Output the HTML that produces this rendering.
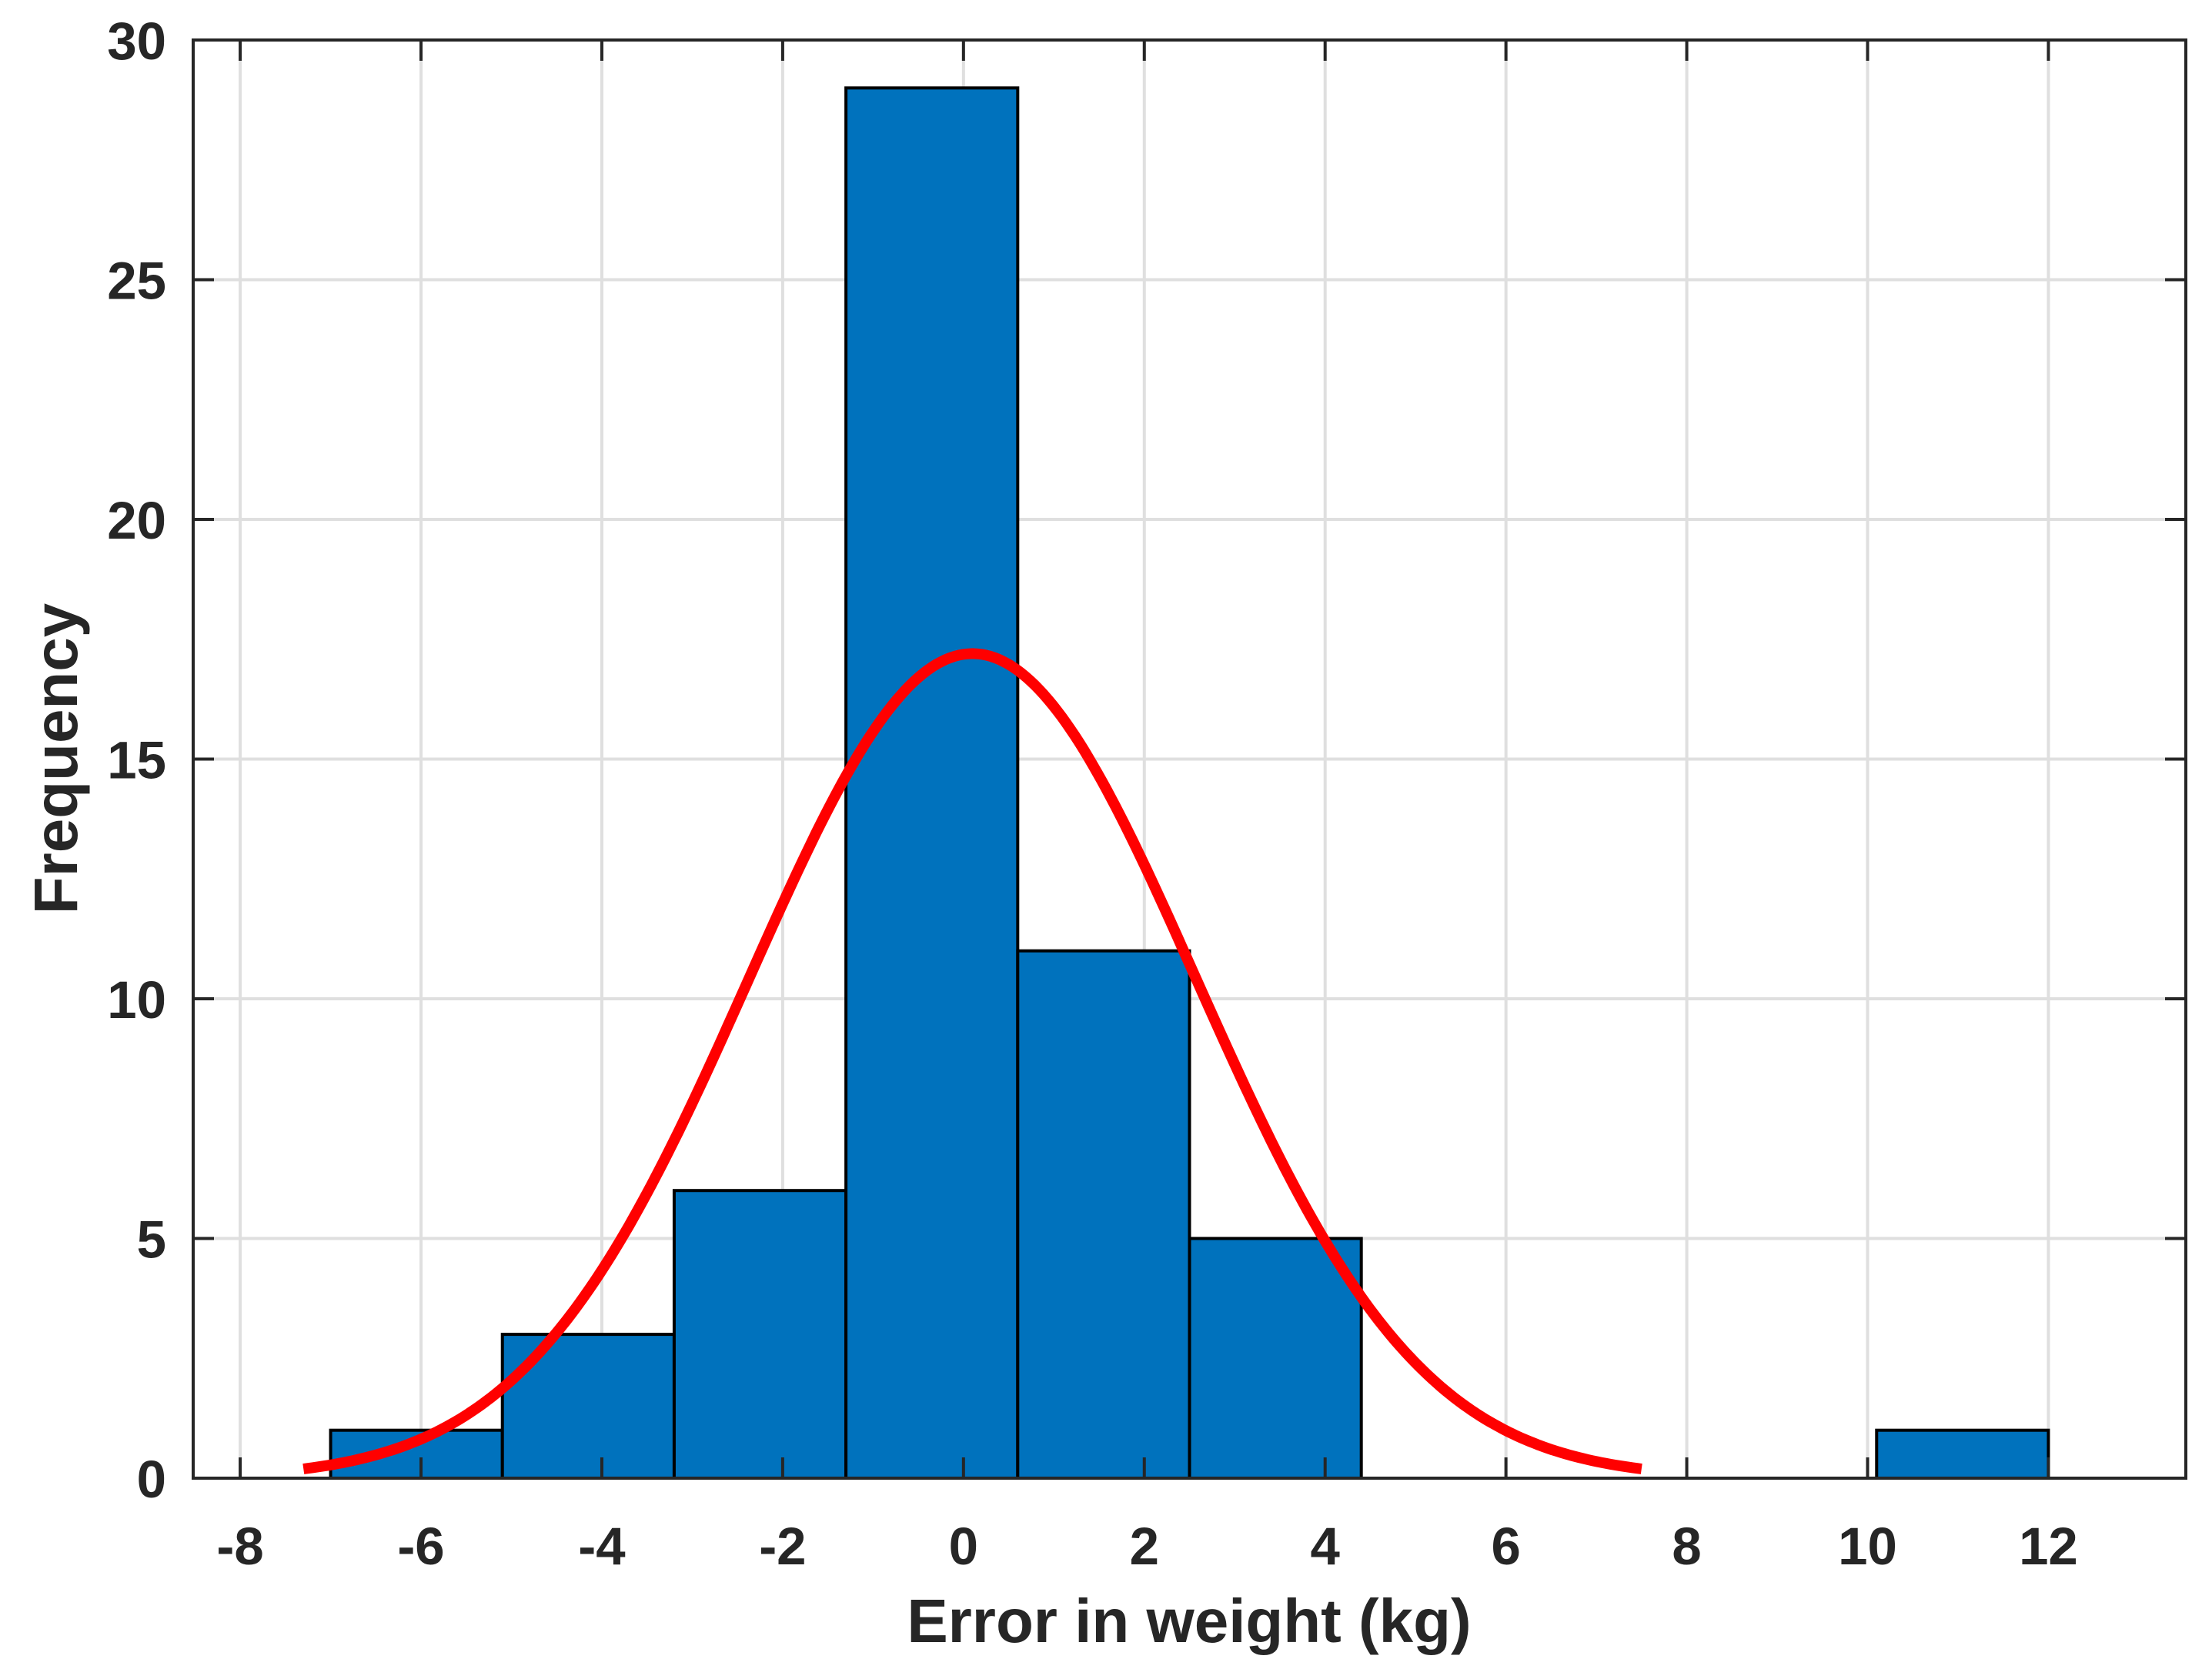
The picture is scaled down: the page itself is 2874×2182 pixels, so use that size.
<!DOCTYPE html>
<html><head><meta charset="utf-8"><style>
html,body{margin:0;padding:0;background:#fff;}
svg text{font-family:"Liberation Sans",Arial,sans-serif;font-weight:bold;fill:#262626;}
</style></head><body>
<svg id="chart" width="2874" height="2177" viewBox="0 0 2874 2177" xmlns="http://www.w3.org/2000/svg">
<rect width="2874" height="2177" fill="#fff"/>
<g id="grid"></g><g id="bars"></g><g id="curve"></g><g id="axes"></g>
</svg>
<script>
const binEdges = [-7.0, -5.1, -3.2, -1.3, 0.6, 2.5, 4.4, 6.3, 8.2, 10.1, 12.0];
const binCounts = [1, 3, 6, 29, 11, 5, 0, 0, 0, 1];
const xTicks = [-8, -6, -4, -2, 0, 2, 4, 6, 8, 10, 12];
const yTicks = [0, 5, 10, 15, 20, 25, 30];
const fitParams = [0.1, 2.47, 17.2]; // mean, sigma, peak height
const fitRange = [-7.3, 7.5];

const L=251,R=2840,T=52,B=1921, xmin=-8.52, xmax=13.52, ymin=0, ymax=30;
const sx=v=>L+(v-xmin)/(xmax-xmin)*(R-L);
const sy=v=>B-(v-ymin)/(ymax-ymin)*(B-T);
const NS="http://www.w3.org/2000/svg";
function mk(tag,attrs,parent){const e=document.createElementNS(NS,tag);for(const k in attrs)e.setAttribute(k,attrs[k]);document.getElementById(parent).appendChild(e);return e;}

xTicks.forEach(t=>{
  const g=mk('line',{x1:sx(t),x2:sx(t),y1:T,y2:B,stroke:'#dfdfdf','stroke-width':4},'grid');
  
  
});
yTicks.forEach(t=>{
  const g=mk('line',{x1:L,x2:R,y1:sy(t),y2:sy(t),stroke:'#dfdfdf','stroke-width':4},'grid');
  
  
});

binCounts.forEach((c,i)=>{
  if(c<=0) return;
  const x0=sx(binEdges[i]),x1=sx(binEdges[i+1]);
  const r=mk('rect',{x:x0,y:sy(c),width:x1-x0,height:sy(0)-sy(c),fill:'#0072bd',stroke:'#000','stroke-width':4},'bars');
  
  
});

let pts=[];
for(let k=0;k<=300;k++){
  const x=fitRange[0]+(fitRange[1]-fitRange[0])*k/300;
  const y=fitParams[2]*Math.exp(-Math.pow(x-fitParams[0],2)/(2*fitParams[1]*fitParams[1]));
  pts.push(sx(x).toFixed(1)+','+sy(y).toFixed(1));
}
const cv=mk('polyline',{points:pts.join(' '),fill:'none',stroke:'#ff0000','stroke-width':14,'stroke-linejoin':'round'},'curve');



const box=mk('rect',{x:L,y:T,width:R-L,height:B-T,fill:'none',stroke:'#262626','stroke-width':4},'axes');


xTicks.forEach(t=>{
  mk('line',{x1:sx(t),x2:sx(t),y1:B,y2:B-27,stroke:'#262626','stroke-width':4},'axes');
  mk('line',{x1:sx(t),x2:sx(t),y1:T,y2:T+27,stroke:'#262626','stroke-width':4},'axes');
  const tx=mk('text',{x:sx(t),y:2033,'text-anchor':'middle','font-size':69},'axes');
  tx.textContent=t;
  
  
});
yTicks.forEach(t=>{
  mk('line',{x1:L,x2:L+27,y1:sy(t),y2:sy(t),stroke:'#262626','stroke-width':4},'axes');
  mk('line',{x1:R,x2:R-27,y1:sy(t),y2:sy(t),stroke:'#262626','stroke-width':4},'axes');
  const tx=mk('text',{x:216,y:sy(t)+25,'text-anchor':'end','font-size':69},'axes');
  tx.textContent=t;
  
  
});
const xl=mk('text',{x:1545,y:2134,'text-anchor':'middle','font-size':80},'axes');
xl.textContent='Error in weight (kg)';


const yl=mk('text',{x:0,y:0,'text-anchor':'middle','font-size':80,transform:'translate(100,986) rotate(-90)'},'axes');
yl.textContent='Frequency';


</script>
</body></html>
